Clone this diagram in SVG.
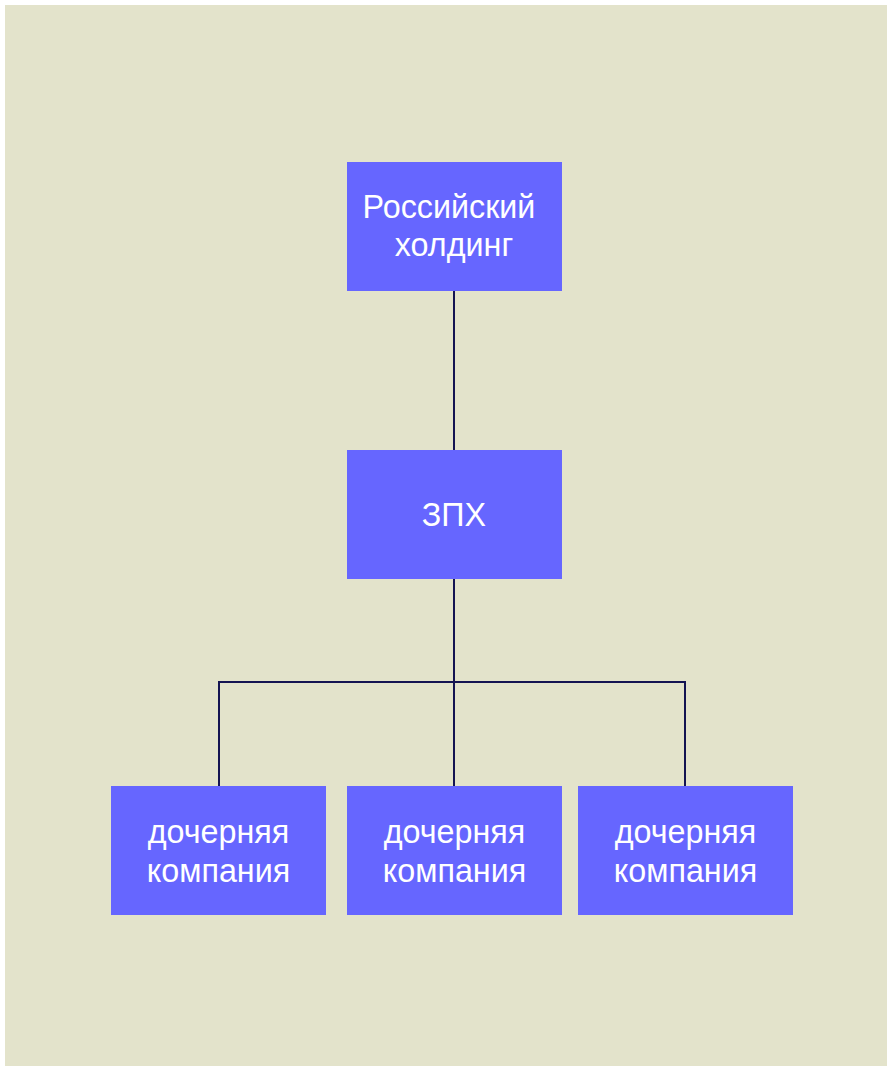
<svg xmlns="http://www.w3.org/2000/svg" width="887" height="1066" viewBox="0 0 887 1066">
<style>
.box{fill:#6666FF}
.t{font-family:"Liberation Sans",Arial,sans-serif;font-size:32.3px;fill:#FFFFFF;text-anchor:middle}
.c{stroke:#141452;stroke-width:2;fill:none}
</style>
<rect x="0" y="0" width="887" height="1066" fill="#FFFFFF"/>
<rect x="5" y="5" width="882" height="1061" fill="#E3E3CB"/>
<g id="connectors">
<line class="c" x1="454" y1="291" x2="454" y2="450"/>
<line class="c" x1="454" y1="579" x2="454" y2="786"/>
<polyline class="c" points="219,786 219,682 685,682 685,786"/>
</g>
<g id="holding">
<rect class="box" x="347" y="162" width="215" height="129"/>
<text class="t" x="449" y="218">Российский</text>
<text class="t" x="454" y="256">холдинг</text>
</g>
<g id="zph">
<rect class="box" x="347" y="450" width="215" height="129"/>
<text class="t" x="454" y="526">ЗПХ</text>
</g>
<g id="sub1">
<rect class="box" x="111" y="786" width="215" height="129"/>
<text class="t" x="218.5" y="843">дочерняя</text>
<text class="t" x="218.5" y="882">компания</text>
</g>
<g id="sub2">
<rect class="box" x="347" y="786" width="215" height="129"/>
<text class="t" x="454.5" y="843">дочерняя</text>
<text class="t" x="454.5" y="882">компания</text>
</g>
<g id="sub3">
<rect class="box" x="578" y="786" width="215" height="129"/>
<text class="t" x="685.5" y="843">дочерняя</text>
<text class="t" x="685.5" y="882">компания</text>
</g>
</svg>
